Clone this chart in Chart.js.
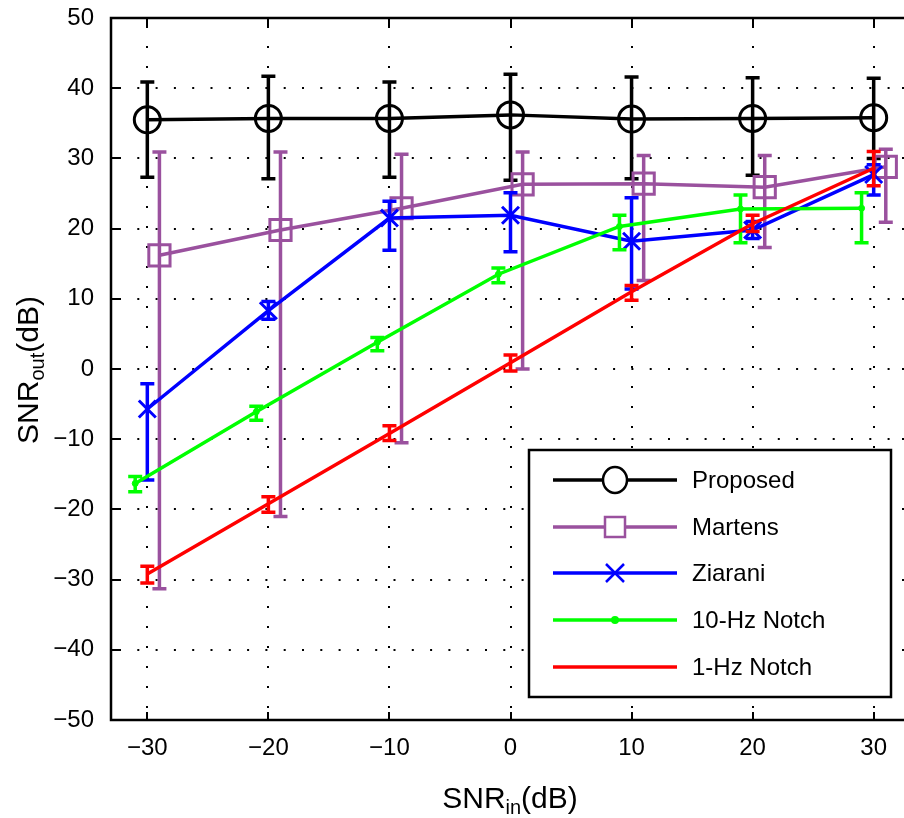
<!DOCTYPE html>
<html>
<head>
<meta charset="utf-8">
<script src="https://cdn.jsdelivr.net/npm/chart.js@4/dist/chart.umd.min.js"></script>
<style>
html,body{margin:0;padding:0;background:#fff;overflow:hidden;}
#wrap{width:928px;height:818px;}
</style>
</head>
<body>
<div id="wrap"><canvas id="c" width="928" height="818"></canvas></div>
<script>
// ---- data ----
const snrIn = [-30, -20, -10, 0, 10, 20, 30];
const xTickValues = [-30, -20, -10, 0, 10, 20, 30];
const yTickValues = [-50, -40, -30, -20, -10, 0, 10, 20, 30, 40, 50];
const seriesNames = ['Proposed', 'Martens', 'Ziarani', '10-Hz Notch', '1-Hz Notch'];

const proposed   = [35.5, 35.7, 35.7, 36.2, 35.6, 35.7, 35.8];
const proposedLo = [27.3, 27.1, 27.3, 26.9, 27.1, 27.6, 30.0];
const proposedHi = [40.9, 41.7, 40.9, 42.0, 41.6, 41.5, 41.4];

const martens    = [16.2, 19.8, 22.9, 26.3, 26.4, 25.9, 28.8];
const martensLo  = [-31.3, -21.0, -10.5, 0.0, 12.6, 17.3, 20.9];
const martensHi  = [30.9, 30.9, 30.6, 30.9, 30.4, 30.4, 31.3];

const ziarani    = [-5.7, 8.3, 21.5, 21.9, 18.2, 19.8, 27.7];
const ziaraniLo  = [-15.8, 7.1, 16.9, 16.7, 11.4, 18.6, 24.8];
const ziaraniHi  = [-2.1, 9.6, 23.9, 25.1, 24.4, 21.0, 29.1];

const notch10    = [-16.3, -6.1, 3.8, 13.5, 20.3, 22.8, 22.9];
const notch10Lo  = [-17.5, -7.3, 2.6, 12.3, 17.0, 18.0, 18.0];
const notch10Hi  = [-15.3, -5.3, 4.5, 14.4, 21.9, 24.8, 25.1];

const notch1     = [-29.2, -19.2, -9.2, 0.9, 11.0, 20.7, 28.6];
const notch1Lo   = [-30.5, -20.4, -10.2, -0.3, 9.8, 19.6, 26.1];
const notch1Hi   = [-28.1, -18.2, -8.1, 2.0, 11.9, 21.9, 31.0];

// ---- styles ----
const FONT = '"Liberation Sans", Arial, sans-serif';
const styles = [
  {color:'#000000', offset:0,  pointStyle:'circle',   radius:13, pbw:3,   fill:false, order:4},
  {color:'#9a519e', offset:1,  pointStyle:'rect',     radius:15, pbw:3,   fill:false, order:3},
  {color:'#0000ff', offset:0,  pointStyle:'crossRot', radius:12, pbw:3,   fill:false, order:2},
  {color:'#00ff00', offset:-1, pointStyle:'circle',   radius:3,  pbw:1,   fill:true,  order:1},
  {color:'#ff0000', offset:0,  pointStyle:'circle',   radius:0,  pbw:0,   fill:true,  order:0}
];
const values = [proposed, martens, ziarani, notch10, notch1];
const lows   = [proposedLo, martensLo, ziaraniLo, notch10Lo, notch1Lo];
const highs  = [proposedHi, martensHi, ziaraniHi, notch10Hi, notch1Hi];

const datasets = values.map((vals, k) => {
  const s = styles[k];
  return {
    label: seriesNames[k],
    data: vals.map((v, i) => ({x: snrIn[i] + s.offset, y: v})),
    borderColor: s.color,
    backgroundColor: s.color,
    borderWidth: 3.5,
    pointStyle: s.pointStyle,
    pointRadius: s.radius,
    pointHoverRadius: s.radius,
    pointBorderWidth: s.pbw,
    pointBorderColor: s.color,
    pointBackgroundColor: s.fill ? s.color : 'rgba(0,0,0,0)',
    tension: 0,
    order: s.order,
    clip: false
  };
});

const minusFix = v => String(v).replace('-', '\u2212');

// error bars, drawn under each series' markers
const errorBars = {
  id: 'errorBars',
  beforeDatasetDraw(chart, args) {
    const k = args.index;
    const {ctx, scales:{x, y}} = chart;
    const s = styles[k];
    ctx.save();
    ctx.strokeStyle = s.color;
    ctx.lineWidth = 3.5;
    ctx.lineCap = 'butt';
    const cap = 7;
    for (let i = 0; i < snrIn.length; i++) {
      const px = x.getPixelForValue(snrIn[i] + s.offset);
      const yl = y.getPixelForValue(lows[k][i]);
      const yh = y.getPixelForValue(highs[k][i]);
      ctx.beginPath();
      ctx.moveTo(px, yl); ctx.lineTo(px, yh);
      ctx.moveTo(px - cap, yl); ctx.lineTo(px + cap, yl);
      ctx.moveTo(px - cap, yh); ctx.lineTo(px + cap, yh);
      ctx.stroke();
    }
    ctx.restore();
  }
};

// dotted grid, box and inward ticks
const grid = {
  id: 'grid',
  beforeDatasetsDraw(chart) {
    const {ctx, chartArea:a, scales:{x, y}} = chart;
    ctx.save();
    ctx.strokeStyle = '#000';
    ctx.lineWidth = 2;
    ctx.setLineDash([2, 16.3]);
    yTickValues.forEach(v => {
      const py = Math.round(y.getPixelForValue(v));
      ctx.beginPath(); ctx.moveTo(a.left + 8, py); ctx.lineTo(a.right, py); ctx.stroke();
    });
    ctx.setLineDash([2, 18]);
    xTickValues.forEach(v => {
      const px = Math.round(x.getPixelForValue(v));
      ctx.beginPath(); ctx.moveTo(px, a.top + 8); ctx.lineTo(px, a.bottom); ctx.stroke();
    });
    ctx.restore();
  },
  afterDatasetsDraw(chart) {
    const {ctx, chartArea:a, scales:{x, y}} = chart;
    ctx.save();
    ctx.strokeStyle = '#000';
    ctx.lineWidth = 2.5;
    ctx.setLineDash([]);
    ctx.strokeRect(a.left, a.top, a.right - a.left, a.bottom - a.top);
    const tl = 8;
    ctx.lineWidth = 2;
    ctx.beginPath();
    yTickValues.forEach(v => {
      const py = Math.round(y.getPixelForValue(v));
      ctx.moveTo(a.left, py); ctx.lineTo(a.left + tl, py);
      ctx.moveTo(a.right, py); ctx.lineTo(a.right - tl, py);
    });
    xTickValues.forEach(v => {
      const px = Math.round(x.getPixelForValue(v));
      ctx.moveTo(px, a.bottom); ctx.lineTo(px, a.bottom - tl);
      ctx.moveTo(px, a.top); ctx.lineTo(px, a.top + tl);
    });
    ctx.stroke();
    ctx.restore();
  }
};

function drawSubText(ctx, parts, x, y, align) {
  let total = 0;
  parts.forEach(p => { ctx.font = p.size + 'px ' + FONT; p.w = ctx.measureText(p.t).width; total += p.w; });
  let cx = align === 'center' ? x - total / 2 : x;
  parts.forEach(p => {
    ctx.font = p.size + 'px ' + FONT;
    ctx.fillText(p.t, cx, y + p.dy);
    cx += p.w;
  });
}

// axis titles and legend
const overlay = {
  id: 'overlay',
  afterDraw(chart) {
    const {ctx} = chart;
    ctx.save();
    ctx.fillStyle = '#000';
    ctx.textAlign = 'left';
    ctx.textBaseline = 'alphabetic';
    drawSubText(ctx, [{t:'SNR', size:30, dy:0}, {t:'in', size:20, dy:6}, {t:'(dB)', size:30, dy:0}], 510, 808, 'center');
    ctx.translate(38, 370);
    ctx.rotate(-Math.PI / 2);
    drawSubText(ctx, [{t:'SNR', size:30, dy:0}, {t:'out', size:20, dy:6}, {t:'(dB)', size:30, dy:0}], 0, 0, 'center');
    ctx.restore();

    // legend
    const L = {x:529, y:450, w:362, h:247};
    ctx.save();
    ctx.fillStyle = '#fff';
    ctx.fillRect(L.x, L.y, L.w, L.h);
    ctx.strokeStyle = '#000';
    ctx.lineWidth = 2.5;
    ctx.strokeRect(L.x, L.y, L.w, L.h);
    const rows = [480, 527, 573, 620, 667];
    seriesNames.forEach((name, k) => {
      const s = styles[k];
      const yy = rows[k];
      ctx.strokeStyle = s.color;
      ctx.lineWidth = 3.5;
      ctx.beginPath(); ctx.moveTo(553, yy); ctx.lineTo(677, yy); ctx.stroke();
      const mx = 615;
      ctx.lineWidth = 2.5;
      if (k === 0) {
        ctx.fillStyle = '#fff';
        ctx.beginPath(); ctx.ellipse(mx, yy, 12, 13, 0, 0, Math.PI * 2); ctx.fill(); ctx.stroke();
      } else if (k === 1) {
        ctx.fillStyle = '#fff';
        ctx.fillRect(mx - 10, yy - 10, 20, 20);
        ctx.strokeRect(mx - 10, yy - 10, 20, 20);
      } else if (k === 2) {
        ctx.beginPath();
        ctx.moveTo(mx - 9, yy - 9); ctx.lineTo(mx + 9, yy + 9);
        ctx.moveTo(mx + 9, yy - 9); ctx.lineTo(mx - 9, yy + 9);
        ctx.stroke();
      } else if (k === 3) {
        ctx.fillStyle = s.color;
        ctx.beginPath(); ctx.arc(mx, yy, 4, 0, Math.PI * 2); ctx.fill();
      }
      ctx.fillStyle = '#000';
      ctx.font = '24px ' + FONT;
      ctx.textAlign = 'left';
      ctx.textBaseline = 'middle';
      ctx.fillText(name, 692, yy + 1);
    });
    ctx.restore();
  }
};

const noPad = s => { s.paddingTop = 0; s.paddingBottom = 0; s.paddingLeft = 0; s.paddingRight = 0; };

new Chart(document.getElementById('c'), {
  type: 'line',
  data: {datasets},
  options: {
    responsive: false,
    animation: false,
    devicePixelRatio: 1,
    layout: {padding: {left: 0, top: 16, right: 1, bottom: 0}},
    plugins: {legend: {display: false}, tooltip: {enabled: false}, title: {display: false}},
    events: [],
    scales: {
      x: {
        type: 'linear', min: -33, max: 33,
        grid: {display: false, drawTicks: false},
        border: {display: false},
        afterBuildTicks: s => { s.ticks = xTickValues.map(v => ({value: v})); },
        afterFit: s => { s.height = 98; noPad(s); },
        ticks: {color: '#000', font: {family: FONT, size: 24}, padding: 14, maxRotation: 0, autoSkip: false,
                callback: v => minusFix(v)}
      },
      y: {
        type: 'linear', min: -50, max: 50,
        grid: {display: false, drawTicks: false},
        border: {display: false},
        afterBuildTicks: s => { s.ticks = yTickValues.map(v => ({value: v})); },
        afterFit: s => { s.width = 111; noPad(s); },
        ticks: {color: '#000', font: {family: FONT, size: 24}, padding: 17, autoSkip: false,
                callback: v => minusFix(v)}
      }
    }
  },
  plugins: [grid, errorBars, overlay]
});
</script>
</body>
</html>
